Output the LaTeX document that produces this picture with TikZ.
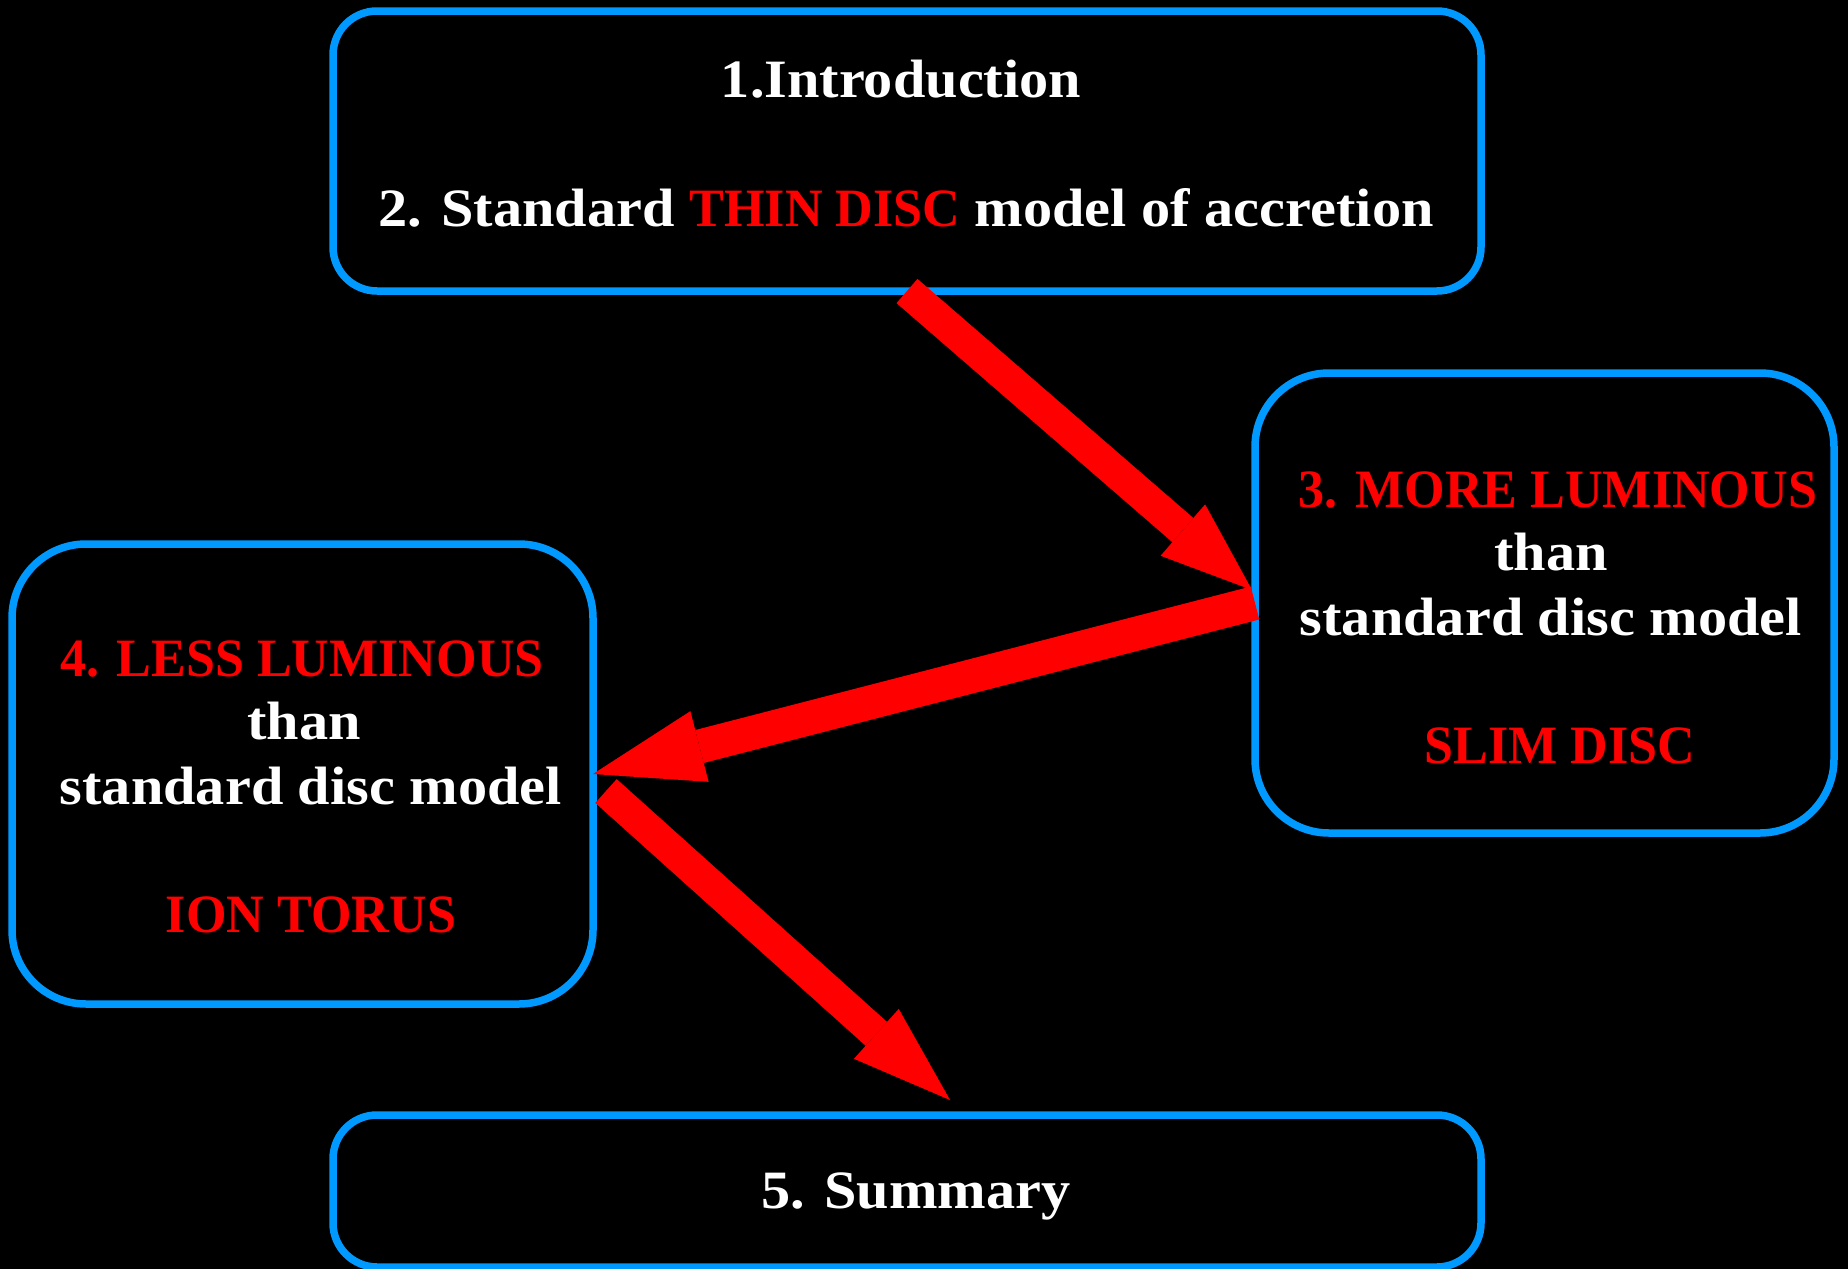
\documentclass[tikz,border=0pt]{standalone}
\usepackage{fontspec}
\setmainfont{Liberation Serif}
\newfontfamily\wfont{Liberation Serif}[FakeStretch=1.08]
\newfontfamily\rfont{Liberation Serif}[FakeStretch=0.965]
\usetikzlibrary{arrows.meta,calc}
\definecolor{boxblue}{RGB}{0,153,255}
\definecolor{arrred}{RGB}{255,0,0}
\begin{document}
\begin{tikzpicture}[x={(0.5pt,0)},y={(0,-0.5pt)},
  box/.style={draw=boxblue, line width=3.75pt, rounded corners=#1, outer sep=0pt, inner sep=0pt},
  wt/.style={text=white, font=\wfont\bfseries\fontsize{27pt}{32pt}\selectfont, anchor=base, inner sep=0pt},
  rt/.style={text=arrred, font=\rfont\bfseries\fontsize{27pt}{32pt}\selectfont, anchor=base, inner sep=0pt},
  bigarrow/.style={draw=arrred, line width=#1, line cap=butt}
]
\fill[black] (0,0) rectangle (1848,1269);
\useasboundingbox (0,0) rectangle (1848,1269);

% boxes
\node[box=22pt, minimum width=574pt, minimum height=140pt] (intro) at (907,151) {};
\node[box=37pt, minimum width=289.5pt, minimum height=230pt] (slim) at (1544.5,603) {};
\node[box=37pt, minimum width=290.5pt, minimum height=230pt] (ion) at (302.5,774) {};
\node[box=22pt, minimum width=574pt, minimum height=76pt] (summ) at (907,1191) {};

% texts
\node[wt] (t1) at (901,97) {1.Introduction};
\node[wt] (t2) at (906,226) {2. Standard {\rfont\color{arrred}THIN DISC} model of accretion};

\node[rt] (t3a) at (1558,507) {3. MORE LUMINOUS};
\node[wt] (t3b) at (1551,570) {than};
\node[wt] (t3c) at (1551,635) {standard disc model};
\node[rt] (t3d) at (1560,763) {SLIM DISC};

\node[rt] (t4a) at (302,676) {4. LESS LUMINOUS};
\node[wt] (t4b) at (304,739) {than};
\node[wt] (t4c) at (311,804) {standard disc model};
\node[rt] (t4d) at (311,932) {ION TORUS};

\node[wt] (t5) at (916,1208) {5. Summary};

% arrow end points
\coordinate (a1e) at ($(slim.west)+(-3,-13)$);
\coordinate (a3s) at ($(ion.east)+(13,17)$);
\coordinate (a3e) at ($(summ.north)+(43,-15)$);

% arrows
\draw[bigarrow=16pt, -{Triangle[length=45.75pt,width=34pt,line width=0pt]}] (intro.south) -- (a1e);
\draw[bigarrow=17pt, -{Triangle[length=55pt,width=36.5pt,line width=0pt]}] (slim.west) -- (ion.east);
\draw[bigarrow=16pt, -{Triangle[length=49.5pt,width=33.5pt,line width=0pt]}] (a3s) -- (a3e);
\end{tikzpicture}
\end{document}
